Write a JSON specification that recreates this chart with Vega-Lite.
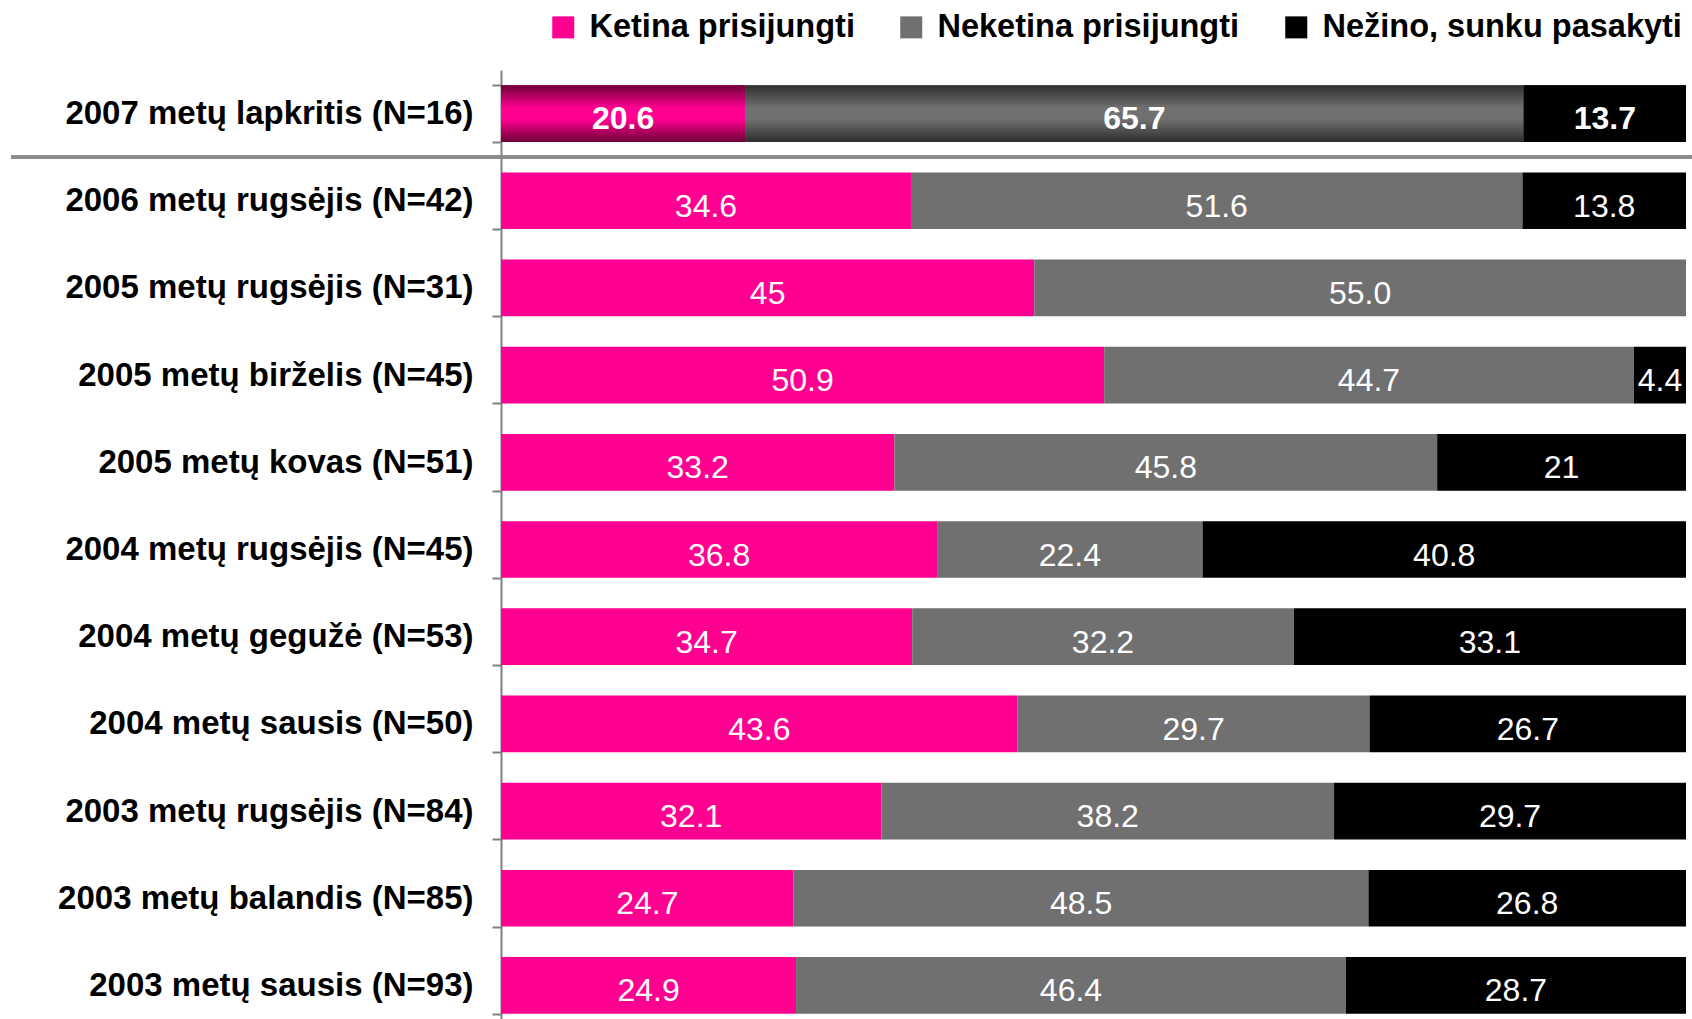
{
  "$schema": "https://vega.github.io/schema/vega-lite/v6.json",
  "width": 1185,
  "height": 959,
  "autosize": {"type": "none"},
  "padding": {"left": 501, "top": 70, "right": 6, "bottom": 0},
  "background": "white",
  "config": {"view": {"stroke": null}, "font": "Liberation Sans"},
  "data": {"values": [
    {"period": "2007 metų lapkritis (N=16)", "category": "Ketina prisijungti", "value": 20.6, "label": "20.6", "order": 1},
    {"period": "2007 metų lapkritis (N=16)", "category": "Neketina prisijungti", "value": 65.7, "label": "65.7", "order": 2},
    {"period": "2007 metų lapkritis (N=16)", "category": "Nežino, sunku pasakyti", "value": 13.7, "label": "13.7", "order": 3},
    {"period": "2006 metų rugsėjis (N=42)", "category": "Ketina prisijungti", "value": 34.6, "label": "34.6", "order": 1},
    {"period": "2006 metų rugsėjis (N=42)", "category": "Neketina prisijungti", "value": 51.6, "label": "51.6", "order": 2},
    {"period": "2006 metų rugsėjis (N=42)", "category": "Nežino, sunku pasakyti", "value": 13.8, "label": "13.8", "order": 3},
    {"period": "2005 metų rugsėjis (N=31)", "category": "Ketina prisijungti", "value": 45, "label": "45", "order": 1},
    {"period": "2005 metų rugsėjis (N=31)", "category": "Neketina prisijungti", "value": 55.0, "label": "55.0", "order": 2},
    {"period": "2005 metų birželis (N=45)", "category": "Ketina prisijungti", "value": 50.9, "label": "50.9", "order": 1},
    {"period": "2005 metų birželis (N=45)", "category": "Neketina prisijungti", "value": 44.7, "label": "44.7", "order": 2},
    {"period": "2005 metų birželis (N=45)", "category": "Nežino, sunku pasakyti", "value": 4.4, "label": "4.4", "order": 3},
    {"period": "2005 metų kovas (N=51)", "category": "Ketina prisijungti", "value": 33.2, "label": "33.2", "order": 1},
    {"period": "2005 metų kovas (N=51)", "category": "Neketina prisijungti", "value": 45.8, "label": "45.8", "order": 2},
    {"period": "2005 metų kovas (N=51)", "category": "Nežino, sunku pasakyti", "value": 21, "label": "21", "order": 3},
    {"period": "2004 metų rugsėjis (N=45)", "category": "Ketina prisijungti", "value": 36.8, "label": "36.8", "order": 1},
    {"period": "2004 metų rugsėjis (N=45)", "category": "Neketina prisijungti", "value": 22.4, "label": "22.4", "order": 2},
    {"period": "2004 metų rugsėjis (N=45)", "category": "Nežino, sunku pasakyti", "value": 40.8, "label": "40.8", "order": 3},
    {"period": "2004 metų gegužė (N=53)", "category": "Ketina prisijungti", "value": 34.7, "label": "34.7", "order": 1},
    {"period": "2004 metų gegužė (N=53)", "category": "Neketina prisijungti", "value": 32.2, "label": "32.2", "order": 2},
    {"period": "2004 metų gegužė (N=53)", "category": "Nežino, sunku pasakyti", "value": 33.1, "label": "33.1", "order": 3},
    {"period": "2004 metų sausis (N=50)", "category": "Ketina prisijungti", "value": 43.6, "label": "43.6", "order": 1},
    {"period": "2004 metų sausis (N=50)", "category": "Neketina prisijungti", "value": 29.7, "label": "29.7", "order": 2},
    {"period": "2004 metų sausis (N=50)", "category": "Nežino, sunku pasakyti", "value": 26.7, "label": "26.7", "order": 3},
    {"period": "2003 metų rugsėjis (N=84)", "category": "Ketina prisijungti", "value": 32.1, "label": "32.1", "order": 1},
    {"period": "2003 metų rugsėjis (N=84)", "category": "Neketina prisijungti", "value": 38.2, "label": "38.2", "order": 2},
    {"period": "2003 metų rugsėjis (N=84)", "category": "Nežino, sunku pasakyti", "value": 29.7, "label": "29.7", "order": 3},
    {"period": "2003 metų balandis (N=85)", "category": "Ketina prisijungti", "value": 24.7, "label": "24.7", "order": 1},
    {"period": "2003 metų balandis (N=85)", "category": "Neketina prisijungti", "value": 48.5, "label": "48.5", "order": 2},
    {"period": "2003 metų balandis (N=85)", "category": "Nežino, sunku pasakyti", "value": 26.8, "label": "26.8", "order": 3},
    {"period": "2003 metų sausis (N=93)", "category": "Ketina prisijungti", "value": 24.9, "label": "24.9", "order": 1},
    {"period": "2003 metų sausis (N=93)", "category": "Neketina prisijungti", "value": 46.4, "label": "46.4", "order": 2},
    {"period": "2003 metų sausis (N=93)", "category": "Nežino, sunku pasakyti", "value": 28.7, "label": "28.7", "order": 3}
  ]},
  "layer": [
    {
      "mark": {"type": "bar"},
      "encoding": {
        "y": {
          "field": "period", "type": "nominal", "sort": null,
          "scale": {"paddingInner": 0.35, "paddingOuter": 0.175},
          "axis": {
            "title": null, "labelFontSize": 33, "labelFont": "Liberation Sans", "labelFontWeight": "bold",
            "labelColor": "#000000", "tickBand": "extent", "tickSize": 9, "tickWidth": 2, "tickColor": "#808080",
            "domainColor": "#808080", "domainWidth": 2, "labelPadding": 19, "labelLimit": 480
          }
        },
        "x": {"field": "value", "type": "quantitative", "stack": "zero", "scale": {"domain": [0, 100], "nice": false, "zero": false}, "axis": null},
        "order": {"field": "order", "type": "quantitative"},
        "color": {
          "field": "category", "type": "nominal",
          "scale": {"domain": ["Ketina prisijungti", "Neketina prisijungti", "Nežino, sunku pasakyti"], "range": ["#ff0090", "#707070", "#000000"]},
          "legend": {
            "orient": "none", "legendX": 46, "legendY": -59, "direction": "horizontal", "title": null,
            "symbolType": "square", "symbolSize": 484, "symbolStrokeWidth": 0, "labelFontSize": 32.5,
            "labelFont": "Liberation Sans", "labelFontWeight": "bold", "labelColor": "#000000",
            "columnPadding": 40, "labelOffset": 10, "labelLimit": 400, "padding": 0
          }
        }
      }
    },
    {
      "transform": [{"filter": "datum.period === '2007 metų lapkritis (N=16)'"}],
      "mark": {"type": "bar"},
      "encoding": {
        "y": {"field": "period", "type": "nominal", "sort": null},
        "x": {"field": "value", "type": "quantitative", "stack": "zero"},
        "order": {"field": "order", "type": "quantitative"},
        "fill": {
          "condition": [
            {"test": "datum.category === 'Ketina prisijungti'", "value": {"gradient": "linear", "x1": 0, "y1": 0, "x2": 0, "y2": 1, "stops": [{"offset": 0, "color": "#6e0038"}, {"offset": 0.4, "color": "#ff0090"}, {"offset": 0.6, "color": "#ff0090"}, {"offset": 1, "color": "#6e0038"}]}},
            {"test": "datum.category === 'Neketina prisijungti'", "value": {"gradient": "linear", "x1": 0, "y1": 0, "x2": 0, "y2": 1, "stops": [{"offset": 0, "color": "#2e2e2e"}, {"offset": 0.4, "color": "#707070"}, {"offset": 0.6, "color": "#707070"}, {"offset": 1, "color": "#2e2e2e"}]}}
          ],
          "value": "#000000"
        }
      }
    },
    {
      "transform": [{"filter": "datum.period !== '2007 metų lapkritis (N=16)'"}],
      "mark": {"type": "text", "color": "#ffffff", "fontSize": 32, "font": "Liberation Sans", "baseline": "middle", "align": "center", "dy": 6},
      "encoding": {
        "y": {"field": "period", "type": "nominal", "sort": null},
        "x": {"field": "value", "type": "quantitative", "stack": "zero", "bandPosition": 0.5},
        "order": {"field": "order", "type": "quantitative"},
        "text": {"field": "label"}
      }
    },
    {
      "transform": [{"filter": "datum.period === '2007 metų lapkritis (N=16)'"}],
      "mark": {"type": "text", "color": "#ffffff", "fontSize": 32, "fontWeight": "bold", "font": "Liberation Sans", "baseline": "middle", "align": "center", "dy": 5},
      "encoding": {
        "y": {"field": "period", "type": "nominal", "sort": null},
        "x": {"field": "value", "type": "quantitative", "stack": "zero", "bandPosition": 0.5},
        "order": {"field": "order", "type": "quantitative"},
        "text": {"field": "label"}
      }
    },
    {
      "mark": {"type": "rule", "color": "#8c8c8c", "strokeWidth": 3},
      "encoding": {
        "y": {"datum": "2007 metų lapkritis (N=16)", "type": "nominal", "bandPosition": 1.269},
        "x": {"datum": -41.3, "type": "quantitative"},
        "x2": {"datum": 100.5}
      }
    }
  ]
}
